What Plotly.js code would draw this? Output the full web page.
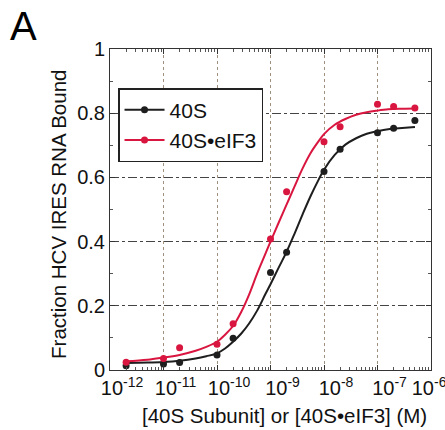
<!DOCTYPE html>
<html>
<head>
<meta charset="utf-8">
<script src="https://cdn.plot.ly/plotly-3.0.1.min.js"></script>
<style>html,body{margin:0;padding:0;background:#fff}#chart{width:445px;height:430px}</style>
</head>
<body>
<div id="chart"></div>
<script>
// Measured points: concentration (M) and fraction bound
const conc = [2e-12, 1e-11, 2e-11, 1e-10, 2e-10, 1e-9, 2e-9, 1e-8, 2e-8, 1e-7, 2e-7, 5e-7];
const bound40S = [0.013, 0.019, 0.023, 0.047, 0.099, 0.304, 0.367, 0.618, 0.688, 0.739, 0.753, 0.777];
const bound40SeIF3 = [0.024, 0.036, 0.069, 0.080, 0.144, 0.408, 0.555, 0.711, 0.758, 0.828, 0.821, 0.816];

// Fitted curves (log10 of concentration)
const fitLogConc = [-11.7, -11.3, -11, -10.7, -10.4, -10.2, -10, -9.85, -9.7, -9.55, -9.4, -9.25, -9.1, -9.0, -8.85, -8.7, -8.55, -8.4, -8.25, -8.1, -8.0, -7.8, -7.6, -7.4, -7.2, -7.0, -6.8, -6.6, -6.3];
const fit40S = [0.022, 0.023, 0.025, 0.029, 0.036, 0.043, 0.052, 0.067, 0.088, 0.113, 0.145, 0.185, 0.235, 0.267, 0.318, 0.368, 0.425, 0.485, 0.542, 0.593, 0.624, 0.670, 0.702, 0.722, 0.736, 0.744, 0.750, 0.753, 0.757];
const fit40SeIF3 = [0.027, 0.032, 0.039, 0.047, 0.060, 0.072, 0.088, 0.110, 0.137, 0.180, 0.235, 0.300, 0.360, 0.400, 0.458, 0.515, 0.572, 0.628, 0.676, 0.713, 0.735, 0.764, 0.782, 0.795, 0.803, 0.808, 0.812, 0.814, 0.815];

const seriesNames = ['40S', '40S\u2022eIF3'];
const xTickVals = [1e-12, 1e-11, 1e-10, 1e-9, 1e-8, 1e-7, 1e-6];
const xTickText = ['10<sup>-12</sup>', '10<sup>-11</sup>', '10<sup>-10</sup>', '10<sup>-9</sup>', '10<sup>-8</sup>', '10<sup>-7</sup>', '10<sup>-6</sup>\u00a0\u00a0\u00a0\u00a0\u00a0'];
const yTickVals = [0, 0.2, 0.4, 0.6, 0.8, 1];
const yTickText = ['0', '0.2', '0.4', '0.6', '0.8', '1'];

const BLACK = '#1e1e1e';
const RED = '#d9163f';
const FONT = 'Liberation Sans, Arial, sans-serif';
const fitConc = fitLogConc.map(e => Math.pow(10, e));

const traces = [
  {x: fitConc, y: fit40S, mode: 'lines', line: {color: BLACK, width: 2, shape: 'spline'}, showlegend: false, hoverinfo: 'skip'},
  {x: fitConc, y: fit40SeIF3, mode: 'lines', line: {color: RED, width: 2, shape: 'spline'}, showlegend: false, hoverinfo: 'skip'},
  {x: conc, y: bound40S, mode: 'markers', marker: {color: BLACK, size: 7}, showlegend: false},
  {x: conc, y: bound40SeIF3, mode: 'markers', marker: {color: RED, size: 7}, showlegend: false},
  {x: [null], y: [null], mode: 'lines+markers', name: seriesNames[0], line: {color: BLACK, width: 2}, marker: {color: BLACK, size: 7}},
  {x: [null], y: [null], mode: 'lines+markers', name: seriesNames[1], line: {color: RED, width: 2}, marker: {color: RED, size: 7}}
];

const layout = {
  width: 445, height: 430,
  margin: {l: 110, r: 14, t: 49, b: 60},
  paper_bgcolor: '#fff', plot_bgcolor: '#fff',
  font: {family: FONT, size: 20, color: '#111'},
  showlegend: true,
  legend: {x: 0.025, y: 0.878, xanchor: 'left', yanchor: 'top', bgcolor: '#fff', bordercolor: '#222', borderwidth: 1.5,
           font: {family: FONT, size: 21, color: '#111'}, tracegroupgap: 0, itemwidth: 40},
  xaxis: {
    type: 'log', range: [-12, -6], tickvals: xTickVals, ticktext: xTickText, tickangle: 0, ticklabelshift: 12, ticklabeloverflow: 'allow',
    showline: true, linecolor: '#333', linewidth: 1, mirror: 'allticks',
    ticks: 'inside', ticklen: 5, tickcolor: '#333',
    minor: {ticks: 'inside', ticklen: 3, tickcolor: '#555', dtick: 'D1', showgrid: false},
    showgrid: true, gridcolor: '#a09080', griddash: 'dot', gridwidth: 1,
    zeroline: false, tickfont: {family: FONT, size: 20, color: '#111'}
  },
  yaxis: {
    range: [0, 1], tickvals: yTickVals, ticktext: yTickText,
    showline: true, linecolor: '#333', linewidth: 1, mirror: 'allticks',
    ticks: 'inside', ticklen: 5, tickcolor: '#333',
    minor: {ticks: 'inside', ticklen: 3, tickcolor: '#555', dtick: 0.1, showgrid: false},
    showgrid: true, gridcolor: '#444', griddash: 'dashdot', gridwidth: 1,
    zeroline: false, tickfont: {family: FONT, size: 20, color: '#111'}
  },
  annotations: [
    {text: '[40S Subunit] or [40S\u2022eIF3] (M)', xref: 'paper', yref: 'paper', x: 0.545, y: -0.142, xanchor: 'center', yanchor: 'middle', showarrow: false, font: {family: FONT, size: 20.5, color: '#111'}},
    {text: 'Fraction HCV IRES RNA Bound', xref: 'paper', yref: 'paper', x: -0.159, y: 0.486, xanchor: 'center', yanchor: 'middle', textangle: -90, showarrow: false, font: {family: FONT, size: 20.5, color: '#111'}},
    {text: 'A', xref: 'paper', yref: 'paper', x: -0.268, y: 1.072, xanchor: 'center', yanchor: 'middle', showarrow: false, font: {family: FONT, size: 40, color: '#000'}}
  ]
};

Plotly.newPlot('chart', traces, layout, {displayModeBar: false, staticPlot: true});
</script>
</body>
</html>
